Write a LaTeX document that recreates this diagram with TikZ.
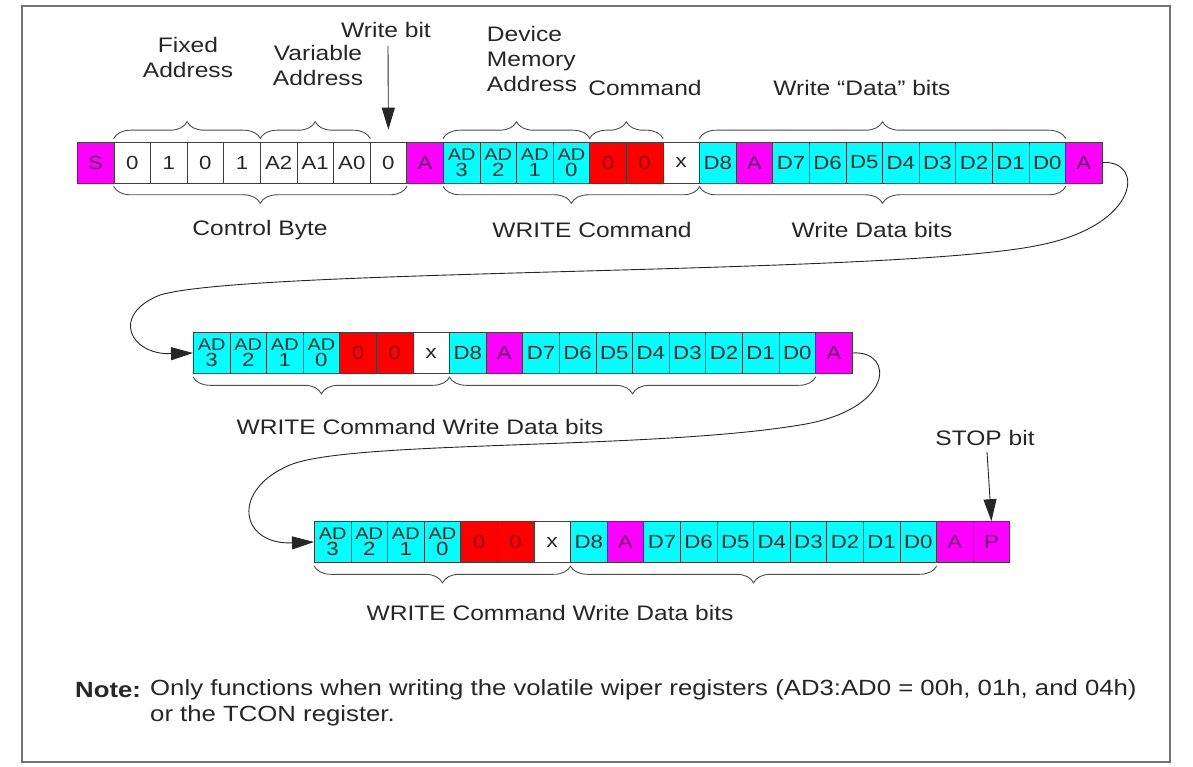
\documentclass[tikz,border=0pt]{standalone}
\usepackage{fontspec}
\setmainfont[FakeStretch=1.17]{Liberation Sans}
\usetikzlibrary{decorations.pathreplacing,arrows.meta}
\definecolor{mg}{HTML}{FF00FF}
\definecolor{cy}{HTML}{00FFFF}
\definecolor{rd}{HTML}{FF0000}
\tikzset{
  x=1pt,y=1pt,
  cell/.style={draw=black!75,line width=0.6pt,minimum width=36.6pt,minimum height=41pt,inner sep=0pt,anchor=west,font=\fontsize{19}{16}\selectfont,align=center},
  M/.style={fill=mg,text=violet!80!black},
  C/.style={fill=cy,text=black!85},
  R/.style={fill=rd,text=red!55!black},
  W/.style={fill=white,text=black!85},
  lbl/.style={font=\fontsize{21}{25}\selectfont,text=black!85,align=center,inner sep=0pt},
  brc/.style={decorate,decoration={brace,amplitude=17pt},draw=black!70,line width=0.9pt},
  brcm/.style={decorate,decoration={brace,amplitude=17pt,mirror},draw=black!70,line width=0.9pt},
  arr/.style={-{Triangle[length=22pt,width=13pt]},line width=0.9pt,draw=black!85},
}
\newcommand{\ADc}[1]{\fontsize{17}{15}\selectfont AD\\#1}
\begin{document}
\begin{tikzpicture}
\useasboundingbox (0,0) rectangle (1193,-767);
\draw[black!55,line width=1.5pt] (22,-6) rectangle (1170,-762);
% row 1
\foreach \t/\c [count=\i] in {S/M,0/W,1/W,0/W,1/W,A2/W,A1/W,A0/W,0/W,A/M,{\ADc3}/C,{\ADc2}/C,{\ADc1}/C,{\ADc0}/C,0/R,0/R,x/W,D8/C,A/M,D7/C,D6/C,D5/C,D4/C,D3/C,D2/C,D1/C,D0/C,A/M}
  \node[cell,\c] (r1c\i) at ({77+(\i-1)*36.6},-162.5) {\t};
% row 2
\foreach \t/\c [count=\i] in {{\ADc3}/C,{\ADc2}/C,{\ADc1}/C,{\ADc0}/C,0/R,0/R,x/W,D8/C,A/M,D7/C,D6/C,D5/C,D4/C,D3/C,D2/C,D1/C,D0/C,A/M}
  \node[cell,\c] (r2c\i) at ({193+(\i-1)*36.6},-353) {\t};
% row 3
\foreach \t/\c [count=\i] in {{\ADc3}/C,{\ADc2}/C,{\ADc1}/C,{\ADc0}/C,0/R,0/R,x/W,D8/C,A/M,D7/C,D6/C,D5/C,D4/C,D3/C,D2/C,D1/C,D0/C,A/M,P/M}
  \node[cell,\c] (r3c\i) at ({314+(\i-1)*36.6},-542) {\t};
% top braces row 1
\draw[brc] ([yshift=3pt]r1c2.north west) -- ([yshift=3pt]r1c5.north east);
\draw[brc] ([yshift=3pt]r1c6.north west) -- ([yshift=3pt]r1c8.north east);
\draw[brc] ([yshift=3pt]r1c11.north west) -- ([yshift=3pt]r1c14.north east);
\draw[brc] ([yshift=3pt]r1c15.north west) -- ([yshift=3pt]r1c16.north east);
\draw[brc] ([yshift=3pt]r1c18.north west) -- ([yshift=3pt]r1c27.north east);
% bottom braces
\draw[brcm] ([yshift=-3pt]r1c2.south west) -- ([yshift=-3pt]r1c9.south east);
\draw[brcm] ([yshift=-3pt]r1c11.south west) -- ([yshift=-3pt]r1c17.south east);
\draw[brcm] ([yshift=-3pt]r1c18.south west) -- ([yshift=-3pt]r1c27.south east);
\draw[brcm] ([yshift=-3pt]r2c1.south west) -- ([yshift=-3pt]r2c7.south east);
\draw[brcm] ([yshift=-3pt]r2c8.south west) -- ([yshift=-3pt]r2c17.south east);
\draw[brcm] ([yshift=-3pt]r3c1.south west) -- ([yshift=-3pt]r3c7.south east);
\draw[brcm] ([yshift=-3pt]r3c8.south west) -- ([yshift=-3pt]r3c17.south east);
% labels
\node[lbl] (lfix) at (188,-57) {Fixed\\Address};
\node[lbl] (lvar) at (318,-65) {Variable\\Address};
\node[lbl] (lwb) at (386,-30) {Write bit};
\node[lbl,align=left] (ldev) at (532,-59) {Device\\Memory\\Address};
\node[lbl] (lcmd) at (645,-88) {Command};
\node[lbl] (lwdb) at (862,-88) {Write “Data” bits};
\node[lbl] (lcb) at (260,-230) {Control Byte};
\node[lbl] (lwc) at (592,-230) {WRITE Command};
\node[lbl] (lwd) at (872,-230) {Write Data bits};
\node[lbl] (l2) at (420,-427) {WRITE Command Write Data bits};
\node[lbl] (l3) at (550,-613) {WRITE Command Write Data bits};
\node[lbl] (lstop) at (985,-438) {STOP bit};
% arrows
\coordinate (wbs) at (388,-46);
\draw[arr] (wbs) -- ([yshift=12pt]r1c9.north);
\coordinate (sts) at (987,-452);
\draw[arr] (sts) -- (r3c19.north);
\draw[arr] (r1c28.east) .. controls (1145,-160) and (1140,-225) .. (1040,-245)
  .. controls (900,-275) and (250,-268) .. (160,-295)
  .. controls (110,-315) and (130,-355) .. (r2c1.west);
\draw[arr] (r2c18.east) .. controls (895,-350) and (895,-410) .. (800,-425)
  .. controls (650,-450) and (350,-440) .. (290,-465)
  .. controls (230,-490) and (240,-545) .. (r3c1.west);
% note
\node[lbl,anchor=west,font=\bfseries\fontsize{22}{25}\selectfont] (nt) at (75,-690) {Note:};
\node[lbl,anchor=west,font=\fontsize{22}{25}\selectfont] (n1) at (150,-690) {Only functions when writing the volatile wiper registers (AD3:AD0 = 00h, 01h, and 04h)};
\node[lbl,anchor=west,font=\fontsize{22}{25}\selectfont] (n2) at (150,-716) {or the TCON register.};
\end{tikzpicture}
\end{document}
